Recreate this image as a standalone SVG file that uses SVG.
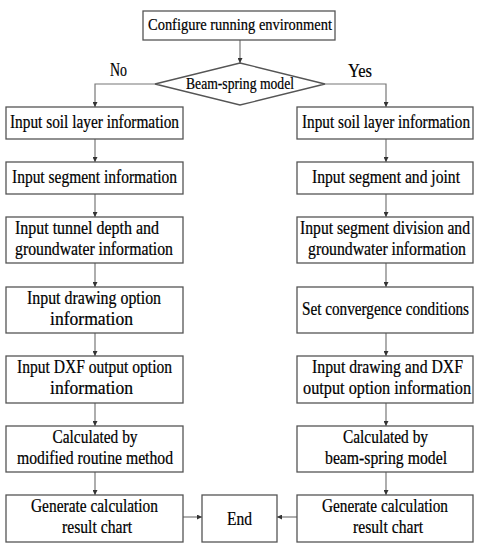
<svg xmlns="http://www.w3.org/2000/svg" width="479" height="550" viewBox="0 0 479 550">
<defs>
<marker id="ah" viewBox="0 0 10 10" refX="10" refY="5" markerWidth="5" markerHeight="5" orient="auto" markerUnits="userSpaceOnUse">
<path d="M0,0 L10,5 L0,10 z" fill="#333"/>
</marker>
<style>
.box{fill:#fff;stroke:#555;stroke-width:1.3}
.t{font-family:"Liberation Serif","Times New Roman",serif;font-size:15px;fill:#000;stroke:#000;stroke-width:0.18;text-anchor:middle}
.s{font-size:13.5px}
.h{font-size:14.5px}
.c{fill:none;stroke:#777;stroke-width:1.2}
</style>
</defs>
<rect width="479" height="550" fill="#fff"/>
<g id="connectors">
<path class="c" d="M240,40 V63" marker-end="url(#ah)"/>
<path class="c" d="M155,84 H95 V107" marker-end="url(#ah)"/>
<path class="c" d="M325,84 H386 V107" marker-end="url(#ah)"/>
<path class="c" d="M95,139 V162" marker-end="url(#ah)"/>
<path class="c" d="M95,194 V217" marker-end="url(#ah)"/>
<path class="c" d="M95,263 V287" marker-end="url(#ah)"/>
<path class="c" d="M95,333 V356" marker-end="url(#ah)"/>
<path class="c" d="M95,403 V426" marker-end="url(#ah)"/>
<path class="c" d="M95,472 V495" marker-end="url(#ah)"/>
<path class="c" d="M386,139 V162" marker-end="url(#ah)"/>
<path class="c" d="M386,194 V217" marker-end="url(#ah)"/>
<path class="c" d="M386,263 V287" marker-end="url(#ah)"/>
<path class="c" d="M386,333 V356" marker-end="url(#ah)"/>
<path class="c" d="M386,403 V426" marker-end="url(#ah)"/>
<path class="c" d="M386,472 V495" marker-end="url(#ah)"/>
<path class="c" d="M183,517 H202" marker-end="url(#ah)"/>
<path class="c" d="M297,517 H277" marker-end="url(#ah)"/>
<text class="t" transform="translate(118.5 76) scale(1 1.22)" textLength="17" lengthAdjust="spacingAndGlyphs">No</text>
<text class="t" transform="translate(360 77) scale(1 1.22)" textLength="24" lengthAdjust="spacingAndGlyphs">Yes</text>
</g>
<g id="start"><rect class="box" x="143" y="11" width="192" height="29"/><text class="t h" transform="translate(240 30) scale(1 1.22)" textLength="184" lengthAdjust="spacingAndGlyphs">Configure running environment</text></g>
<g id="decision"><polygon class="box" points="240,63 325,84 240,105 155,84"/><text class="t s" transform="translate(240 89) scale(1 1.2)" textLength="108" lengthAdjust="spacingAndGlyphs">Beam-spring model</text></g>
<g id="L1"><rect class="box" x="6" y="107" width="177" height="32"/><text class="t" transform="translate(94.5 128) scale(1 1.22)" textLength="169" lengthAdjust="spacingAndGlyphs">Input soil layer information</text></g>
<g id="L2"><rect class="box" x="6" y="162" width="177" height="32"/><text class="t" transform="translate(94.5 183) scale(1 1.22)" textLength="165" lengthAdjust="spacingAndGlyphs">Input segment information</text></g>
<g id="L3"><rect class="box" x="6" y="217" width="177" height="46"/><text class="t" transform="translate(87 234) scale(1 1.22)" textLength="144" lengthAdjust="spacingAndGlyphs">Input tunnel depth and</text><text class="t" transform="translate(94 255) scale(1 1.22)" textLength="158" lengthAdjust="spacingAndGlyphs">groundwater information</text></g>
<g id="L4"><rect class="box" x="6" y="287" width="177" height="46"/><text class="t" transform="translate(94 304) scale(1 1.22)" textLength="134" lengthAdjust="spacingAndGlyphs">Input drawing option</text><text class="t" transform="translate(91.5 325) scale(1 1.22)" textLength="83" lengthAdjust="spacingAndGlyphs">information</text></g>
<g id="L5"><rect class="box" x="6" y="356" width="177" height="47"/><text class="t" transform="translate(94.5 373) scale(1 1.22)" textLength="155" lengthAdjust="spacingAndGlyphs">Input DXF output option</text><text class="t" transform="translate(91.5 394) scale(1 1.22)" textLength="83" lengthAdjust="spacingAndGlyphs">information</text></g>
<g id="L6"><rect class="box" x="6" y="426" width="177" height="46"/><text class="t" transform="translate(95 443) scale(1 1.22)" textLength="85" lengthAdjust="spacingAndGlyphs">Calculated by</text><text class="t" transform="translate(95 464) scale(1 1.22)" textLength="156" lengthAdjust="spacingAndGlyphs">modified routine method</text></g>
<g id="L7"><rect class="box" x="6" y="495" width="177" height="47"/><text class="t" transform="translate(94.5 512) scale(1 1.22)" textLength="127" lengthAdjust="spacingAndGlyphs">Generate calculation</text><text class="t" transform="translate(97 533) scale(1 1.22)" textLength="70" lengthAdjust="spacingAndGlyphs">result chart</text></g>
<g id="end"><rect class="box" x="202" y="495" width="75" height="47"/><text class="t" transform="translate(239.5 525) scale(1 1.22)" textLength="25" lengthAdjust="spacingAndGlyphs">End</text></g>
<g id="R1"><rect class="box" x="297" y="107" width="176" height="32"/><text class="t" transform="translate(386 128) scale(1 1.22)" textLength="168" lengthAdjust="spacingAndGlyphs">Input soil layer information</text></g>
<g id="R2"><rect class="box" x="297" y="162" width="176" height="32"/><text class="t" transform="translate(386 183) scale(1 1.22)" textLength="148" lengthAdjust="spacingAndGlyphs">Input segment and joint</text></g>
<g id="R3"><rect class="box" x="297" y="217" width="176" height="46"/><text class="t" transform="translate(385 234) scale(1 1.22)" textLength="170" lengthAdjust="spacingAndGlyphs">Input segment division and</text><text class="t" transform="translate(387 255) scale(1 1.22)" textLength="158" lengthAdjust="spacingAndGlyphs">groundwater information</text></g>
<g id="R4"><rect class="box" x="297" y="287" width="176" height="46"/><text class="t" transform="translate(385.5 315) scale(1 1.22)" textLength="167" lengthAdjust="spacingAndGlyphs">Set convergence conditions</text></g>
<g id="R5"><rect class="box" x="297" y="356" width="176" height="47"/><text class="t" transform="translate(387.5 373) scale(1 1.22)" textLength="151" lengthAdjust="spacingAndGlyphs">Input drawing and DXF</text><text class="t" transform="translate(387 394) scale(1 1.22)" textLength="168" lengthAdjust="spacingAndGlyphs">output option information</text></g>
<g id="R6"><rect class="box" x="297" y="426" width="176" height="46"/><text class="t" transform="translate(385.5 443) scale(1 1.22)" textLength="85" lengthAdjust="spacingAndGlyphs">Calculated by</text><text class="t" transform="translate(386 464) scale(1 1.22)" textLength="122" lengthAdjust="spacingAndGlyphs">beam-spring model</text></g>
<g id="R7"><rect class="box" x="297" y="495" width="176" height="47"/><text class="t" transform="translate(385 512) scale(1 1.22)" textLength="126" lengthAdjust="spacingAndGlyphs">Generate calculation</text><text class="t" transform="translate(388 533) scale(1 1.22)" textLength="70" lengthAdjust="spacingAndGlyphs">result chart</text></g>
</svg>
